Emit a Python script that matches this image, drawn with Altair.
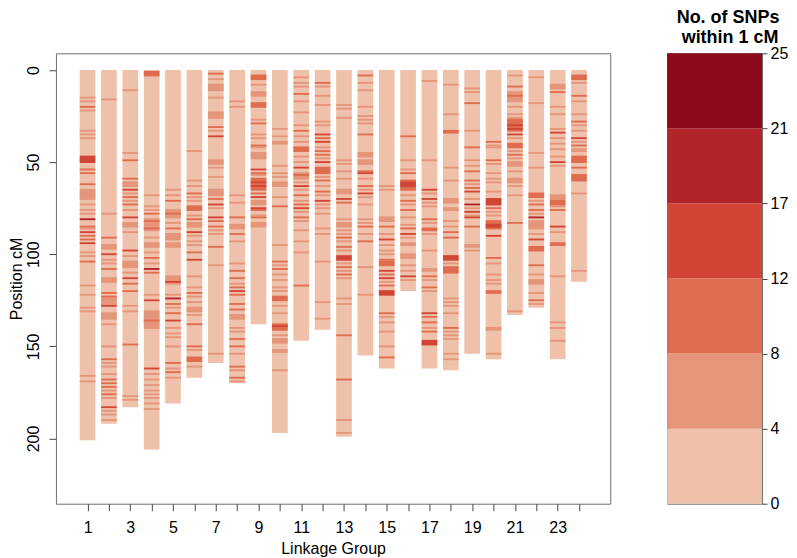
import json
import altair as alt
import pandas as pd

# ---- data ----
lg_lengths = [201, 192, 183, 206, 181, 167, 159, 170, 138, 197, 147, 141,
              199, 155, 162, 120, 162, 163, 154, 157, 133, 129, 157, 115]

# stripes: (centre cM, SNP count) or (from cM, to cM, SNP count)
lg1 = [(15, 6), (17, 6), (20, 10), (22, 6), (33, 6), (35, 6), (37, 6), (47, 50, 14), (54, 10), (56, 10),
       (62, 10), (65, 70, 6), (73, 6), (76, 6), (78, 6), (81, 19), (85, 10), (86, 6), (88, 14), (90, 10),
       (92, 10), (94, 14), (99, 6), (101, 6), (104, 10), (117, 6), (122, 6), (129, 6), (131, 6), (166, 6), (169, 6)]
lg2 = [(16, 6), (78, 6), (91, 10), (95, 97, 6), (100, 14), (103, 6), (105, 6), (108, 10), (113, 115, 6),
       (121, 10), (123, 10), (124, 127, 6), (128, 14), (132, 135, 6), (138, 6), (150, 6), (157, 10), (159, 6),
       (161, 6), (165, 6), (168, 10), (170, 10), (172, 10), (174, 6), (176, 10), (178, 6), (183, 14),
       (185, 6), (187, 6), (190, 6)]
lg3 = [(11, 6), (45, 6), (49, 10), (59, 10), (61, 63, 6), (65, 14), (67, 6), (69, 10), (71, 6), (73, 10),
       (76, 6), (80, 14), (83, 85, 6), (88, 6), (98, 14), (101, 6), (104, 107, 6), (110, 6), (113, 14),
       (116, 10), (120, 10), (128, 6), (131, 6), (149, 10), (177, 6), (179, 6)]
lg4 = [(1, 3, 10), (68, 6), (74, 6), (76, 6), (78, 10), (81, 87, 6), (82, 10), (86, 10), (91, 6), (94, 96, 6),
       (99, 6), (102, 10), (105, 6), (108, 19), (110, 10), (122, 6), (125, 14), (131, 140, 6), (136, 10),
       (162, 14), (165, 6), (168, 6), (171, 6), (174, 6), (176, 6), (178, 6), (181, 6), (184, 6)]
lg5 = [(65, 6), (68, 6), (71, 10), (76, 80, 6), (78, 10), (83, 6), (86, 10), (89, 92, 6), (94, 96, 6),
       (112, 116, 6), (115, 14), (122, 6), (124, 19), (127, 10), (129, 6), (132, 10), (136, 14), (140, 6),
       (143, 6), (145, 6), (150, 6), (159, 10), (162, 6), (164, 10), (167, 6)]
lg6 = [(44, 6), (60, 6), (63, 6), (67, 10), (69, 6), (71, 6), (74, 76, 10), (79, 6), (81, 10), (83, 85, 6),
       (88, 14), (90, 6), (93, 6), (95, 6), (99, 10), (103, 14), (112, 6), (118, 6), (121, 10), (123, 6),
       (126, 6), (129, 131, 6), (133, 6), (138, 10), (150, 10), (152, 6), (156, 158, 10), (161, 6)]
lg7 = [(2, 10), (5, 6), (8, 11, 6), (15, 6), (23, 26, 6), (31, 10), (33, 6), (36, 14), (49, 51, 6), (53, 6),
       (58, 6), (65, 68, 6), (70, 10), (73, 14), (75, 6), (80, 14), (82, 10), (85, 10), (87, 6), (89, 6),
       (96, 10), (106, 6), (154, 6)]
lg8 = [(17, 6), (20, 6), (68, 6), (72, 6), (80, 10), (84, 86, 6), (89, 10), (93, 6), (105, 6), (109, 10),
       (113, 10), (116, 6), (118, 10), (120, 14), (122, 10), (127, 10), (130, 10), (133, 135, 6), (140, 6),
       (142, 6), (146, 10), (150, 10), (154, 6), (161, 10), (163, 6), (167, 10), (169, 6)]
lg9 = [(3, 5, 10), (8, 6), (12, 14, 6), (18, 20, 10), (27, 6), (29, 10), (35, 6), (37, 6), (41, 10), (42, 6),
       (45, 48, 6), (54, 14), (56, 10), (57, 6), (59, 65, 10), (61, 14), (63, 14), (67, 10), (69, 14),
       (71, 73, 6), (75, 14), (76, 10), (79, 6), (80, 10), (83, 85, 6)]
lg10 = [(32, 6), (36, 6), (39, 40, 6), (52, 6), (56, 6), (58, 6), (61, 63, 6), (69, 6), (74, 10), (95, 6),
        (104, 10), (106, 6), (108, 10), (111, 6), (114, 6), (118, 6), (120, 6), (123, 125, 10), (128, 6),
        (132, 6), (138, 141, 10), (139, 14), (144, 6), (146, 148, 6), (152, 6), (153, 6), (163, 6)]
lg11 = [(4, 6), (7, 6), (9, 6), (13, 10), (17, 6), (23, 6), (30, 6), (33, 10), (36, 6), (39, 6), (42, 44, 10),
        (47, 6), (50, 6), (53, 14), (56, 59, 6), (57, 10), (61, 6), (63, 14), (65, 6), (68, 10), (71, 6),
        (73, 10), (75, 14), (77, 6), (80, 10), (82, 6), (87, 6), (93, 6), (99, 6), (117, 10)]
lg12 = [(7, 10), (9, 6), (14, 6), (19, 6), (28, 6), (30, 6), (35, 14), (37, 10), (39, 14), (42, 6), (44, 10),
        (46, 10), (48, 6), (50, 14), (53, 56, 10), (58, 6), (60, 10), (63, 6), (66, 10), (68, 6), (71, 14),
        (73, 6), (75, 6), (78, 6), (86, 6), (89, 6), (104, 6), (126, 6), (135, 6)]
lg13 = [(19, 6), (21, 6), (26, 6), (49, 6), (51, 6), (55, 6), (59, 6), (65, 67, 6), (70, 14), (72, 10),
        (81, 6), (83, 85, 6), (87, 6), (89, 6), (91, 10), (93, 6), (96, 10), (98, 6), (101, 103, 14), (105, 6),
        (107, 10), (109, 6), (111, 10), (113, 6), (124, 6), (127, 6), (144, 10), (168, 10), (190, 6), (197, 6)]
lg14 = [(3, 10), (7, 6), (11, 6), (20, 6), (25, 6), (27, 6), (29, 6), (35, 10), (45, 47, 6), (49, 51, 6),
        (55, 10), (56, 14), (59, 6), (63, 10), (65, 6), (67, 14), (69, 6), (73, 6), (81, 6), (83, 6), (85, 10),
        (89, 6), (93, 10), (107, 6), (122, 6)]
lg15 = [(63, 6), (65, 6), (80, 82, 6), (85, 10), (89, 6), (92, 14), (95, 6), (98, 6), (100, 6), (103, 10),
        (104, 106, 10), (109, 14), (111, 10), (113, 14), (115, 6), (117, 10), (120, 122, 14), (132, 10),
        (134, 6), (137, 6), (142, 6), (150, 6), (156, 10)]
lg16 = [(36, 10), (49, 6), (54, 6), (56, 10), (60, 65, 10), (61, 63, 14), (68, 6), (71, 10), (73, 6),
        (76, 10), (80, 6), (84, 6), (86, 10), (89, 14), (91, 6), (94, 95, 6), (100, 102, 6), (106, 6),
        (109, 6), (112, 14), (114, 6)]
lg17 = [(6, 6), (49, 6), (65, 14), (67, 6), (70, 14), (72, 6), (74, 6), (81, 10), (83, 6), (86, 87, 10),
        (89, 6), (98, 6), (108, 109, 6), (112, 10), (114, 6), (118, 10), (120, 6), (132, 14), (134, 10),
        (137, 10), (140, 6), (142, 10), (147, 149, 14)]
lg18 = [(8, 6), (24, 6), (33, 34, 10), (53, 6), (60, 6), (70, 72, 6), (75, 76, 6), (82, 6), (85, 6), (88, 10),
        (91, 10), (101, 103, 14), (105, 6), (107, 110, 10), (124, 6), (126, 6), (128, 6), (132, 6), (140, 10),
        (142, 6), (144, 6), (146, 6), (154, 6), (157, 6)]
lg19 = [(10, 6), (12, 6), (18, 10), (33, 6), (42, 10), (49, 6), (52, 6), (55, 10), (60, 10), (62, 6),
        (64, 10), (66, 14), (70, 6), (73, 19), (75, 6), (77, 14), (79, 6), (80, 14), (85, 10), (95, 6),
        (96, 6), (98, 6)]
lg20 = [(39, 10), (41, 6), (42, 6), (49, 10), (51, 6), (56, 6), (59, 6), (61, 6), (66, 6), (70, 73, 14),
        (75, 10), (77, 6), (79, 6), (82, 86, 10), (84, 85, 14), (90, 14), (102, 10), (105, 6), (111, 6),
        (114, 6), (116, 6), (120, 121, 10), (140, 141, 6), (154, 6)]
lg21 = [(3, 6), (9, 10), (12, 17, 6), (14, 10), (20, 6), (24, 6), (26, 6), (27, 33, 10), (30, 14), (32, 14),
        (35, 14), (37, 6), (40, 42, 10), (44, 6), (46, 10), (48, 6), (50, 52, 6), (55, 6), (59, 61, 6),
        (63, 6), (68, 6), (83, 10), (131, 6)]
lg22 = [(4, 6), (18, 6), (45, 6), (53, 6), (67, 69, 10), (71, 6), (73, 10), (76, 10), (78, 6), (80, 19),
        (82, 86, 6), (89, 6), (92, 14), (96, 98, 10), (106, 10), (111, 6), (114, 116, 6), (121, 6), (125, 10),
        (127, 6)]
lg23 = [(8, 10, 6), (12, 10), (20, 6), (24, 6), (32, 6), (34, 14), (37, 6), (40, 6), (43, 6), (47, 6),
        (50, 14), (52, 6), (68, 70, 6), (71, 73, 10), (74, 6), (76, 10), (85, 14), (88, 6), (94, 95, 10),
        (112, 6), (137, 6), (140, 6), (147, 6)]
lg24 = [(3, 5, 10), (7, 6), (14, 10), (17, 6), (24, 6), (28, 10), (30, 6), (33, 6), (37, 14), (39, 6),
        (41, 10), (43, 6), (44, 6), (47, 50, 10), (53, 10), (57, 60, 10), (67, 6), (109, 6)]

group_stripes = [lg1, lg2, lg3, lg4, lg5, lg6, lg7, lg8, lg9, lg10, lg11, lg12,
                 lg13, lg14, lg15, lg16, lg17, lg18, lg19, lg20, lg21, lg22, lg23, lg24]

count_breaks = [4, 8, 12, 17, 21]
legend_labels = ["0", "4", "8", "12", "17", "21", "25"]
legend_counts = [2, 6, 10, 14, 19, 23]
legend_title_lines = ["No. of SNPs", "within 1 cM"]
palette = ["#EFC0AA", "#E4957A", "#E06C4F", "#D24536", "#B3232A", "#8A0A1C"]

# ---- build table ----
rows = []
for i, length in enumerate(lg_lengths):
    rows.append({"g": i + 1, "y": 0, "y2": length, "count": 0})
stripe_rows = []
for i, stripes in enumerate(group_stripes):
    for s in stripes:
        if len(s) == 2:
            p, c = s
            stripe_rows.append({"g": i + 1, "y": p - 0.5, "y2": p + 0.5, "count": c})
        else:
            a, b, c = s
            stripe_rows.append({"g": i + 1, "y": a - 0.5, "y2": b + 0.5, "count": c})
stripe_rows.sort(key=lambda r: r["count"])
df = pd.DataFrame(rows + stripe_rows)

FONT = "Liberation Sans"
color_scale = alt.Scale(type="threshold", domain=count_breaks, range=palette)

main = alt.Chart(df).transform_calculate(
    xl="datum.g - 0.367", xr="datum.g + 0.367"
).mark_rect(strokeWidth=0).encode(
    x=alt.X("xl:Q",
            scale=alt.Scale(domain=[-0.48, 25.46], nice=False, zero=False),
            axis=alt.Axis(values=list(range(1, 25)),
                          labelExpr="datum.value % 2 == 1 ? datum.value : ''",
                          tickSize=7, labelPadding=9, domain=False, grid=False,
                          title="Linkage Group", titlePadding=5)),
    x2="xr:Q",
    y=alt.Y("y:Q",
            scale=alt.Scale(domain=[-9.05, 235.4], reverse=True, nice=False, zero=False),
            axis=alt.Axis(values=[0, 50, 100, 150, 200], labelAngle=270,
                          labelAlign="center", labelBaseline="bottom",
                          tickSize=7, labelPadding=7, domain=False, grid=False,
                          title="Position cM", titlePadding=1)),
    y2="y2:Q",
    color=alt.Color("count:Q", scale=color_scale, legend=None),
).properties(width=555, height=451)

leg_df = pd.DataFrame({
    "lo": list(range(6)),
    "hi": list(range(1, 7)),
    "c": legend_counts,
})
label_js = json.dumps(legend_labels)
LEG_W = 95
legend_bar = alt.Chart(leg_df).mark_rect(strokeWidth=0).encode(
    x=alt.value(0), x2=alt.value(LEG_W),
    y=alt.Y("lo:Q", scale=alt.Scale(domain=[0, 6], nice=False, zero=False),
            axis=alt.Axis(orient="right", values=list(range(7)),
                          labelExpr=f"{label_js}[datum.value]",
                          tickSize=5, labelPadding=3, domain=False, grid=False,
                          title=None, labelBaseline="middle")),
    y2="hi:Q",
    color=alt.Color("c:Q", scale=color_scale, legend=None),
)
title_df1 = pd.DataFrame({"t": [legend_title_lines[0]]})
title_df2 = pd.DataFrame({"t": [legend_title_lines[1]]})
text_style = dict(font=FONT, fontSize=18, fontWeight="bold", align="center",
                  baseline="alphabetic", color="#000000")
legend_t1 = alt.Chart(title_df1).mark_text(**text_style).encode(
    x=alt.value(61), y=alt.value(-30), text="t:N")
legend_t2 = alt.Chart(title_df2).mark_text(**text_style).encode(
    x=alt.value(63), y=alt.value(-10), text="t:N")

legend = alt.layer(legend_bar, legend_t1, legend_t2).properties(width=LEG_W, height=451)

chart = alt.hconcat(main, legend, spacing=55).properties(
    padding={"left": 0, "top": 0, "right": 0, "bottom": 0},
    background="white",
).configure_view(
    stroke="#6e6e6e", strokeWidth=1
).configure_axis(
    labelFont=FONT, titleFont=FONT, labelFontSize=16, titleFontSize=16,
    labelColor="#000000", titleColor="#000000", titleFontWeight="normal",
    tickColor="#444444", tickWidth=1,
)

chart.save("out.html", embed_options={"renderer": "svg", "actions": False})
